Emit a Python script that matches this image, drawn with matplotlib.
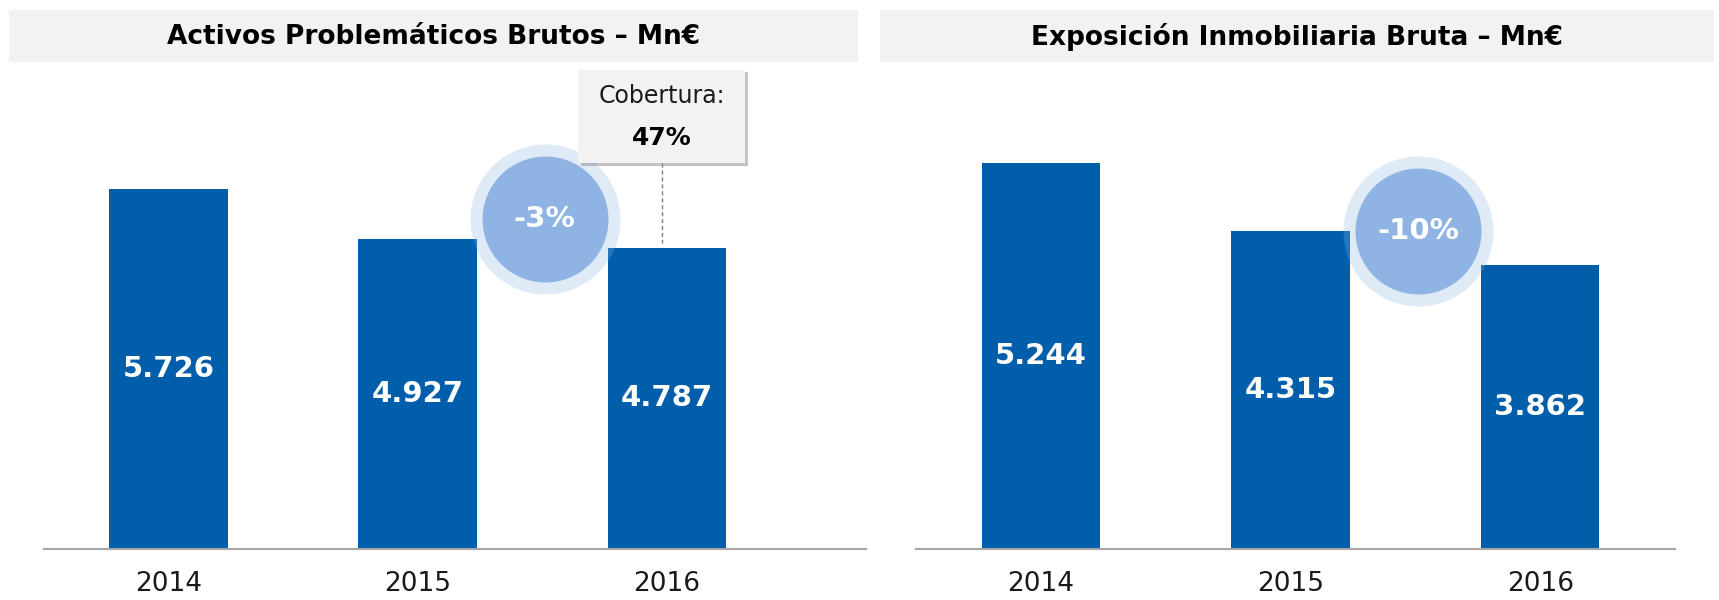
import matplotlib.pyplot as plt
import matplotlib.patheffects as pe
from matplotlib.patches import Rectangle, FancyBboxPatch

years = ["2014", "2015", "2016"]
activos = [5.726, 4.927, 4.787]
inmob = [5.244, 4.315, 3.862]
activos_lbl = ["5.726", "4.927", "4.787"]
inmob_lbl = ["5.244", "4.315", "3.862"]
titles = ["Activos Problemáticos Brutos – Mn€", "Exposición Inmobiliaria Bruta – Mn€"]
var_txt = ["-3%", "-10%"]
cobertura = "47%"

BLUE = "#005EAA"
CIRCLE = "#8FB4E3"
GREY_BAND = "#F2F2F2"

W, H = 1719, 600
fig = plt.figure(figsize=(W / 100, H / 100), dpi=100)
plt.rcParams["font.family"] = ["DejaVu Sans"]


def px_axes(x0, x1, y_base, y_top):
    return fig.add_axes([x0 / W, (H - y_base) / H, (x1 - x0) / W, (y_base - y_top) / H])


# title bands
for (bx0, bx1), t in zip([(9, 858), (880, 1714)], titles):
    fig.add_artist(Rectangle((bx0 / W, 1 - 62 / H), (bx1 - bx0) / W, 52 / H,
                             transform=fig.transFigure, color=GREY_BAND, lw=0, zorder=0))
    fig.text((bx0 + bx1) / 2 / W, 1 - 37 / H, t, ha="center", va="center",
             fontsize=19, fontweight="bold", color="black")

ax1 = px_axes(44, 866, 549, 66)
ax2 = px_axes(916, 1675, 549, 66)

panels = [
    (ax1, activos, activos_lbl, (-0.5, 2.8), (549 - 66) / 62.9, 5.25, var_txt[0]),
    (ax2, inmob, inmob_lbl, (-0.5, 2.54), (549 - 66) / 73.6, 4.32, var_txt[1]),
]

x = list(range(len(years)))
for ax, vals, lbls, xl, ytop, cy, vt in panels:
    ax.bar(x, vals, width=0.475, color=BLUE, zorder=2)
    ax.set_xlim(*xl)
    ax.set_ylim(0, ytop)
    for i, v in enumerate(vals):
        ax.text(i, v / 2, lbls[i], ha="center", va="center", color="white",
                fontsize=21, fontweight="bold", zorder=3)
    ax.set_xticks(x)
    ax.set_xticklabels(years, fontsize=19, color="#1a1a1a")
    ax.tick_params(axis="x", length=0, pad=16)
    ax.set_yticks([])
    for s in ["top", "right", "left"]:
        ax.spines[s].set_visible(False)
    ax.spines["bottom"].set_color("#A6A6A6")
    ax.spines["bottom"].set_linewidth(1.5)
    ax.spines["bottom"].set_zorder(5)
    # variation bubble between 2015 and 2016
    ax.scatter([1.51], [cy], s=(2 * 75 * 0.72) ** 2, color=CIRCLE, alpha=0.28,
               lw=0, zorder=6, clip_on=False)
    ax.scatter([1.51], [cy], s=(2 * 63 * 0.72) ** 2, color=CIRCLE, lw=0,
               zorder=7, clip_on=False)
    ax.text(1.51, cy, vt, ha="center", va="center", color="white",
            fontsize=21, fontweight="bold", zorder=8)

# callout on 2016 (left panel)
box = FancyBboxPatch((1.645, 6.14), 0.67, 1.48, boxstyle="square,pad=0",
                     facecolor=GREY_BAND, edgecolor="none", zorder=6.5, clip_on=False,
                     path_effects=[pe.withSimplePatchShadow(offset=(2, -2), shadow_rgbFace="#888888", alpha=0.5),
                                   pe.Normal()])
ax1.add_patch(box)
ax1.plot([1.98, 1.98], [6.14, activos[2] + 0.08], ls=(0, (3, 2)), color="#808080",
         lw=1, zorder=3, clip_on=False)
ax1.text(1.98, 7.2, "Cobertura:", ha="center", va="center", fontsize=17,
         color="#1a1a1a", zorder=9)
ax1.text(1.98, 6.53, cobertura, ha="center", va="center", fontsize=18,
         fontweight="bold", color="black", zorder=9)

fig.savefig("out.png", dpi=100)
